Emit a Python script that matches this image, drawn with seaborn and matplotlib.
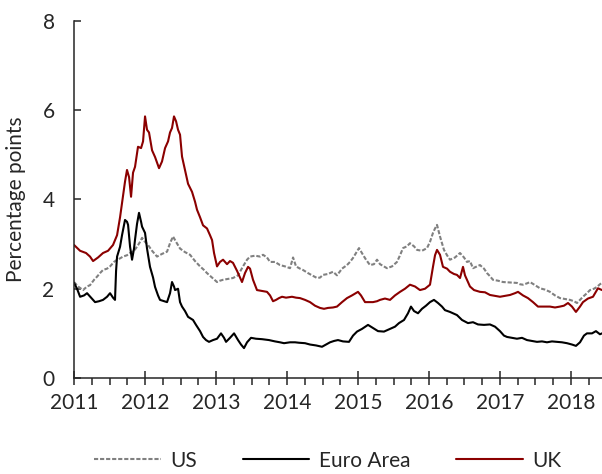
import matplotlib
matplotlib.use("Agg")
import matplotlib.pyplot as plt
from matplotlib.ticker import MultipleLocator
import seaborn as sns

# Series (decimal years, percentage points)
uk_years = [2011.000, 2011.085, 2011.169, 2011.225, 2011.268, 2011.338, 2011.408, 2011.479, 2011.549,
            2011.606, 2011.648, 2011.676, 2011.718, 2011.746, 2011.775, 2011.803, 2011.831, 2011.859,
            2011.901, 2011.944, 2011.972, 2012.000, 2012.028, 2012.056, 2012.099, 2012.141, 2012.197,
            2012.239, 2012.282, 2012.324, 2012.352, 2012.380, 2012.408, 2012.437, 2012.465, 2012.493,
            2012.521, 2012.563, 2012.606, 2012.662, 2012.704, 2012.732, 2012.775, 2012.817, 2012.873,
            2012.915, 2012.944, 2012.972, 2013.014, 2013.056, 2013.099, 2013.155, 2013.197, 2013.239,
            2013.296, 2013.338, 2013.366, 2013.408, 2013.451, 2013.479, 2013.521, 2013.577, 2013.648,
            2013.718, 2013.761, 2013.803, 2013.845, 2013.887, 2013.930, 2013.986, 2014.070, 2014.127,
            2014.183, 2014.254, 2014.324, 2014.394, 2014.465, 2014.521, 2014.577, 2014.648, 2014.704,
            2014.775, 2014.845, 2014.915, 2015.000, 2015.042, 2015.099, 2015.155, 2015.211, 2015.268,
            2015.310, 2015.380, 2015.451, 2015.521, 2015.592, 2015.662, 2015.732, 2015.803, 2015.873,
            2015.944, 2016.014, 2016.056, 2016.085, 2016.113, 2016.155, 2016.197, 2016.254, 2016.296,
            2016.352, 2016.394, 2016.437, 2016.479, 2016.507, 2016.535, 2016.577, 2016.634, 2016.718,
            2016.789, 2016.859, 2016.930, 2017.000, 2017.070, 2017.141, 2017.211, 2017.254, 2017.324,
            2017.394, 2017.465, 2017.535, 2017.620, 2017.704, 2017.775, 2017.845, 2017.901, 2017.958,
            2018.014, 2018.070, 2018.127, 2018.169, 2018.239, 2018.310, 2018.380, 2018.437]
uk_values = [2.98, 2.85, 2.80, 2.72, 2.62, 2.70, 2.80, 2.85, 2.98,
             3.20, 3.60, 3.92, 4.40, 4.66, 4.50, 4.06, 4.60, 4.73,
             5.18, 5.15, 5.30, 5.86, 5.56, 5.50, 5.10, 4.95, 4.70,
             4.85, 5.15, 5.30, 5.50, 5.60, 5.86, 5.75, 5.56, 5.45,
             4.96, 4.66, 4.35, 4.17, 3.95, 3.77, 3.60, 3.42, 3.35,
             3.20, 3.09, 2.80, 2.50, 2.60, 2.65, 2.55, 2.62, 2.58,
             2.40, 2.25, 2.15, 2.35, 2.49, 2.45, 2.20, 1.97, 1.95,
             1.93, 1.85, 1.72, 1.75, 1.79, 1.82, 1.80, 1.82, 1.80,
             1.79, 1.75, 1.70, 1.62, 1.57, 1.55, 1.57, 1.58, 1.60,
             1.70, 1.79, 1.85, 1.93, 1.85, 1.70, 1.70, 1.70, 1.72,
             1.75, 1.78, 1.75, 1.85, 1.93, 2.00, 2.09, 2.05, 1.97,
             2.00, 2.09, 2.49, 2.75, 2.87, 2.76, 2.49, 2.45, 2.38,
             2.33, 2.31, 2.24, 2.49, 2.30, 2.20, 2.05, 1.97, 1.93,
             1.92, 1.86, 1.84, 1.82, 1.84, 1.86, 1.90, 1.93, 1.85,
             1.79, 1.70, 1.60, 1.60, 1.60, 1.58, 1.60, 1.62, 1.68,
             1.60, 1.48, 1.60, 1.70, 1.78, 1.82, 2.01, 1.97]

us_years = [2011.000, 2011.056, 2011.127, 2011.183, 2011.225, 2011.282, 2011.324, 2011.366, 2011.408,
            2011.465, 2011.507, 2011.563, 2011.606, 2011.648, 2011.690, 2011.746, 2011.789, 2011.845,
            2011.887, 2011.930, 2011.958, 2012.000, 2012.042, 2012.099, 2012.169, 2012.239, 2012.310,
            2012.352, 2012.394, 2012.437, 2012.493, 2012.563, 2012.634, 2012.704, 2012.775, 2012.831,
            2012.873, 2012.944, 2013.014, 2013.056, 2013.099, 2013.169, 2013.239, 2013.310, 2013.380,
            2013.437, 2013.479, 2013.549, 2013.620, 2013.662, 2013.718, 2013.761, 2013.831, 2013.901,
            2013.972, 2014.042, 2014.085, 2014.127, 2014.183, 2014.225, 2014.296, 2014.352, 2014.423,
            2014.465, 2014.507, 2014.577, 2014.648, 2014.704, 2014.775, 2014.845, 2014.887, 2014.930,
            2014.972, 2015.014, 2015.070, 2015.113, 2015.169, 2015.225, 2015.268, 2015.310, 2015.366,
            2015.408, 2015.479, 2015.549, 2015.592, 2015.634, 2015.690, 2015.732, 2015.789, 2015.831,
            2015.901, 2015.972, 2016.014, 2016.056, 2016.085, 2016.113, 2016.155, 2016.211, 2016.254,
            2016.296, 2016.366, 2016.437, 2016.493, 2016.535, 2016.577, 2016.620, 2016.676, 2016.718,
            2016.775, 2016.817, 2016.859, 2016.901, 2016.972, 2017.042, 2017.141, 2017.239, 2017.282,
            2017.324, 2017.380, 2017.423, 2017.493, 2017.563, 2017.634, 2017.704, 2017.775, 2017.845,
            2017.915, 2017.986, 2018.042, 2018.085, 2018.127, 2018.169, 2018.225, 2018.268, 2018.324,
            2018.366, 2018.408, 2018.437]
us_values = [2.15, 2.05, 1.97, 2.05, 2.08, 2.20, 2.27, 2.35, 2.42,
             2.45, 2.50, 2.60, 2.65, 2.68, 2.72, 2.75, 2.80, 2.85,
             2.94, 3.05, 3.14, 3.05, 2.98, 2.85, 2.72, 2.78, 2.83,
             3.02, 3.17, 3.05, 2.90, 2.82, 2.76, 2.62, 2.50, 2.42,
             2.35, 2.25, 2.15, 2.18, 2.20, 2.22, 2.24, 2.30, 2.50,
             2.65, 2.72, 2.74, 2.72, 2.76, 2.70, 2.60, 2.60, 2.53,
             2.50, 2.46, 2.70, 2.50, 2.45, 2.42, 2.35, 2.30, 2.24,
             2.25, 2.31, 2.33, 2.38, 2.30, 2.45, 2.53, 2.60, 2.69,
             2.80, 2.91, 2.76, 2.65, 2.53, 2.55, 2.65, 2.55, 2.50,
             2.46, 2.50, 2.60, 2.75, 2.91, 2.95, 3.02, 2.95, 2.87,
             2.85, 2.91, 3.05, 3.25, 3.35, 3.43, 3.17, 2.87, 2.75,
             2.65, 2.70, 2.80, 2.70, 2.60, 2.62, 2.46, 2.50, 2.53,
             2.45, 2.35, 2.28, 2.20, 2.18, 2.15, 2.14, 2.13, 2.10,
             2.09, 2.12, 2.15, 2.08, 2.01, 1.98, 1.93, 1.85, 1.79,
             1.77, 1.75, 1.72, 1.68, 1.75, 1.82, 1.90, 1.97, 2.00,
             2.04, 2.10, 2.13]

ea_years = [2011.000, 2011.042, 2011.085, 2011.141, 2011.183, 2011.239, 2011.296, 2011.352, 2011.408,
            2011.465, 2011.507, 2011.549, 2011.577, 2011.592, 2011.606, 2011.648, 2011.676, 2011.718,
            2011.746, 2011.761, 2011.789, 2011.817, 2011.845, 2011.859, 2011.887, 2011.915, 2011.944,
            2011.958, 2012.000, 2012.028, 2012.070, 2012.113, 2012.141, 2012.183, 2012.211, 2012.268,
            2012.310, 2012.352, 2012.380, 2012.408, 2012.423, 2012.465, 2012.493, 2012.521, 2012.563,
            2012.606, 2012.676, 2012.718, 2012.775, 2012.817, 2012.859, 2012.901, 2012.958, 2013.014,
            2013.070, 2013.113, 2013.141, 2013.197, 2013.254, 2013.310, 2013.352, 2013.394, 2013.437,
            2013.493, 2013.563, 2013.648, 2013.746, 2013.831, 2013.901, 2013.958, 2014.042, 2014.113,
            2014.169, 2014.254, 2014.324, 2014.408, 2014.493, 2014.549, 2014.606, 2014.662, 2014.718,
            2014.789, 2014.873, 2014.930, 2014.986, 2015.056, 2015.141, 2015.211, 2015.282, 2015.366,
            2015.451, 2015.521, 2015.577, 2015.648, 2015.704, 2015.746, 2015.789, 2015.845, 2015.901,
            2015.958, 2016.014, 2016.070, 2016.127, 2016.183, 2016.225, 2016.296, 2016.394, 2016.465,
            2016.549, 2016.620, 2016.690, 2016.775, 2016.859, 2016.930, 2017.000, 2017.056, 2017.099,
            2017.169, 2017.239, 2017.310, 2017.380, 2017.451, 2017.521, 2017.592, 2017.662, 2017.732,
            2017.803, 2017.873, 2017.944, 2018.014, 2018.070, 2018.127, 2018.183, 2018.225, 2018.296,
            2018.352, 2018.408, 2018.437]
ea_values = [2.13, 2.00, 1.82, 1.85, 1.90, 1.80, 1.70, 1.72, 1.75,
             1.82, 1.90, 1.80, 1.75, 2.40, 2.72, 2.94, 3.20, 3.54,
             3.50, 3.43, 2.94, 2.65, 2.90, 3.10, 3.45, 3.70, 3.50,
             3.39, 3.25, 2.90, 2.49, 2.25, 2.04, 1.85, 1.75, 1.72,
             1.70, 1.90, 2.15, 2.05, 1.97, 2.00, 1.70, 1.60, 1.50,
             1.37, 1.30, 1.19, 1.05, 0.92, 0.85, 0.81, 0.85, 0.88,
             1.00, 0.90, 0.81, 0.90, 1.00, 0.85, 0.75, 0.67, 0.80,
             0.90, 0.88, 0.87, 0.85, 0.82, 0.80, 0.78, 0.80, 0.80,
             0.79, 0.78, 0.75, 0.73, 0.70, 0.75, 0.80, 0.83, 0.85,
             0.82, 0.81, 0.95, 1.04, 1.10, 1.19, 1.12, 1.05, 1.04,
             1.10, 1.15, 1.23, 1.30, 1.45, 1.60, 1.50, 1.45, 1.55,
             1.62, 1.70, 1.75, 1.68, 1.60, 1.52, 1.48, 1.41, 1.30,
             1.23, 1.25, 1.20, 1.19, 1.20, 1.15, 1.05, 0.95, 0.92,
             0.90, 0.88, 0.90, 0.85, 0.83, 0.81, 0.82, 0.80, 0.82,
             0.81, 0.80, 0.78, 0.75, 0.72, 0.80, 0.95, 1.00, 1.00,
             1.05, 0.98, 1.00]

year_ticks = [2011, 2012, 2013, 2014, 2015, 2016, 2017, 2018]

sns.set_style("ticks")
plt.rcParams["font.family"] = ["Lato", "DejaVu Sans"]

fig = plt.figure(figsize=(6.02, 4.74), dpi=100)
ax = fig.add_axes([0.123, 0.2025, 0.877, 0.7535])

sns.lineplot(x=us_years, y=us_values, ax=ax, color="#808080", lw=1.5,
             linestyle=(0, (2.0, 0.9)), sort=False, label="US")
sns.lineplot(x=ea_years, y=ea_values, ax=ax, color="black", lw=1.5,
             sort=False, label="Euro Area")
sns.lineplot(x=uk_years, y=uk_values, ax=ax, color="#8B0000", lw=1.5,
             sort=False, label="UK")

ax.set_xlim(2011, 2018.437)
ax.set_ylim(0, 8)
ax.set_xticks(year_ticks)
ax.set_xticklabels([str(y) for y in year_ticks])
ax.xaxis.set_minor_locator(MultipleLocator(0.25))
ax.set_yticks([0, 2, 4, 6, 8])
ax.set_ylabel("Percentage points", fontsize=15, labelpad=12)
ax.set_xlabel("")

sns.despine(ax=ax)
for s in ["left", "bottom"]:
    ax.spines[s].set_linewidth(1.1)
ax.tick_params(axis="x", which="major", direction="inout", length=10, width=1.1,
               labelsize=15, pad=6)
ax.tick_params(axis="x", which="minor", direction="out", length=5, width=1.1)
ax.tick_params(axis="y", which="major", direction="in", length=5, width=1.1,
               labelsize=15, pad=14)

handles, labels = ax.get_legend_handles_labels()
ax.get_legend().remove()
fig.legend(handles, labels, loc="center", bbox_to_anchor=(0.544, 0.028), ncol=3,
           frameon=False, fontsize=15, handlelength=3.2, handletextpad=0.45,
           columnspacing=2.2)

fig.savefig("out.png", dpi=100)
